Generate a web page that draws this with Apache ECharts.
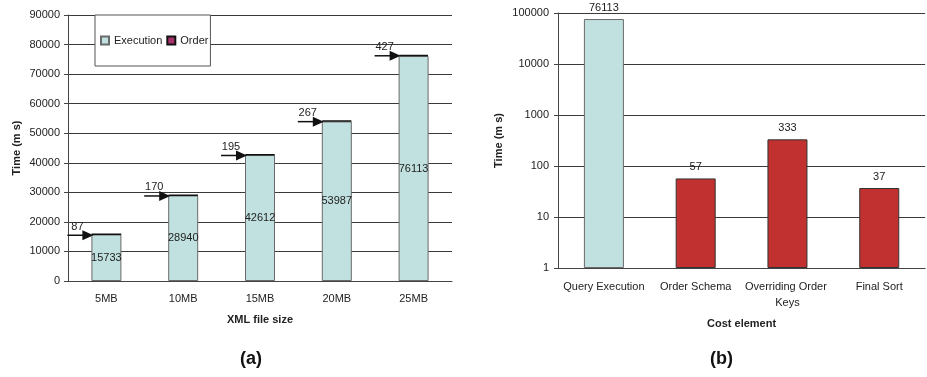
<!DOCTYPE html>
<html>
<head>
<meta charset="utf-8">
<script src="https://cdn.jsdelivr.net/npm/echarts@6/dist/echarts.min.js"></script>
<style>
  html, body { margin: 0; padding: 0; background: #fff; }
  #chart { width: 927px; height: 377px; }
</style>
</head>
<body>
<div id="chart"></div>
<script>
// (a) execution vs. order cost per document size
const fileSizes = ['5MB', '10MB', '15MB', '20MB', '25MB'];
const executionMs = [15733, 28940, 42612, 53987, 76113];
const orderMs = [87, 170, 195, 267, 427];
const timeTicksA = [0, 90000, 10000]; // min, max, interval

// (b) cost breakdown for the 25MB document (log scale)
const costElements = ['Query Execution', 'Order Schema', 'Overriding Order Keys', 'Final Sort'];
const costMs = [76113, 57, 333, 37];
const costKind = ['Execution', 'Order', 'Order', 'Order'];

const FONT = '"Liberation Sans", Arial, sans-serif';
const TEXT = '#222';
const CYAN = '#c0e1df';
const MAGENTA = '#a8326a';
const RED = '#c0312f';
const BAR_W_A = 30;
const BAR_W_B = 40;

const chart = echarts.init(document.getElementById('chart'), null, { renderer: 'canvas' });

const arrowData = fileSizes.map((_, i) => [i, executionMs[i] + orderMs[i], orderMs[i]]);

const plainNumber = v => String(v);
const axisLabelStyle = { color: TEXT, fontSize: 11, fontFamily: FONT };
const nameStyle = { color: TEXT, fontSize: 11, fontWeight: 'bold', fontFamily: FONT };

chart.setOption({
  animation: false,
  textStyle: { fontFamily: FONT },
  grid: [
    { left: 68, top: 15, width: 384, height: 266 },
    { left: 558, top: 13, width: 377, height: 255 }
  ],
  legend: {
    data: ['Execution', 'Order'],
    left: 95, top: 15,
    orient: 'horizontal',
    icon: 'rect',
    padding: [20, 2, 20, 5],
    itemWidth: 8, itemHeight: 8, itemGap: 4,
    backgroundColor: '#fff',
    borderColor: '#555', borderWidth: 1,
    textStyle: { color: TEXT, fontSize: 11, fontFamily: FONT }
  },
  xAxis: [
    {
      type: 'category', gridIndex: 0, data: fileSizes,
      name: 'XML file size', nameLocation: 'middle', nameGap: 33, nameTextStyle: nameStyle,
      axisLine: { lineStyle: { color: '#444' } },
      axisTick: { length: 4, lineStyle: { color: '#444' } },
      axisLabel: Object.assign({ margin: 12 }, axisLabelStyle)
    },
    {
      type: 'category', gridIndex: 1, data: costElements,
      name: 'Cost element', nameLocation: 'middle', nameGap: 50, nameTextStyle: nameStyle,
      axisLine: { lineStyle: { color: '#444' } },
      axisTick: { length: 4, lineStyle: { color: '#444' } },
      axisLabel: Object.assign({ margin: 11, interval: 0, width: 92, overflow: 'break', lineHeight: 16 }, axisLabelStyle)
    }
  ],
  yAxis: [
    {
      type: 'value', gridIndex: 0,
      min: timeTicksA[0], max: timeTicksA[1], interval: timeTicksA[2],
      name: 'Time (m s)', nameLocation: 'middle', nameGap: 46, nameTextStyle: nameStyle,
      axisLine: { show: true, lineStyle: { color: '#444' } },
      axisTick: { show: true, length: 4, lineStyle: { color: '#444' } },
      axisLabel: Object.assign({ margin: 8, formatter: plainNumber }, axisLabelStyle),
      splitLine: { lineStyle: { color: '#3a3a3a', width: 1 } }
    },
    {
      type: 'log', gridIndex: 1, logBase: 10, min: 1, max: 100000,
      name: 'Time (m s)', nameLocation: 'middle', nameGap: 54, nameTextStyle: nameStyle,
      axisLine: { show: true, lineStyle: { color: '#444' } },
      axisTick: { show: true, length: 4, lineStyle: { color: '#444' } },
      minorTick: { show: false },
      axisLabel: Object.assign({ margin: 9, formatter: plainNumber }, axisLabelStyle),
      splitLine: { lineStyle: { color: '#3a3a3a', width: 1 } }
    }
  ],
  series: [
    {
      name: 'Execution', type: 'bar', xAxisIndex: 0, yAxisIndex: 0, stack: 'total',
      data: executionMs, barWidth: BAR_W_A,
      itemStyle: { color: CYAN, borderColor: '#6a6a6a', borderWidth: 1 },
      label: { show: true, position: 'inside', color: TEXT, fontSize: 11, fontFamily: FONT }
    },
    {
      name: 'Order', type: 'bar', xAxisIndex: 0, yAxisIndex: 0, stack: 'total',
      data: orderMs, barWidth: BAR_W_A,
      itemStyle: { color: MAGENTA, borderColor: '#111', borderWidth: 1.5 }
    },
    {
      // arrows pointing at the thin order-cost segment, labelled with its value
      name: 'orderArrows', type: 'custom', xAxisIndex: 0, yAxisIndex: 0,
      data: arrowData, z: 10, silent: true, clip: false,
      renderItem(params, api) {
        const p = api.coord([api.value(0), api.value(1)]);
        const tipX = p[0] - BAR_W_A / 2 + 2;
        const y = p[1] + 1;
        return {
          type: 'group',
          children: [
            { type: 'line', shape: { x1: tipX - 26, y1: y, x2: tipX - 9, y2: y },
              style: { stroke: '#111', lineWidth: 1.5 } },
            { type: 'polygon', shape: { points: [[tipX - 11, y - 5], [tipX, y], [tipX - 11, y + 5]] },
              style: { fill: '#111' } },
            { type: 'text', x: tipX - 16, y: y - 3,
              style: { text: String(api.value(2)), align: 'center', verticalAlign: 'bottom',
                       fill: TEXT, fontSize: 11, fontFamily: FONT } }
          ]
        };
      }
    },
    {
      name: 'Cost', type: 'bar', xAxisIndex: 1, yAxisIndex: 1,
      barWidth: BAR_W_B,
      data: costMs.map((v, i) => ({
        value: v,
        itemStyle: costKind[i] === 'Execution'
          ? { color: CYAN, borderColor: '#6a6a6a', borderWidth: 1 }
          : { color: RED, borderColor: '#333', borderWidth: 1 }
      })),
      label: { show: true, position: 'top', distance: 6, color: TEXT, fontSize: 11, fontFamily: FONT }
    }
  ],
  graphic: [
    { type: 'text', left: 240, top: 350,
      style: { text: '(a)', fontSize: 18, fontWeight: 'bold', fill: '#111', fontFamily: FONT } },
    { type: 'text', left: 710, top: 350,
      style: { text: '(b)', fontSize: 18, fontWeight: 'bold', fill: '#111', fontFamily: FONT } }
  ]
});
</script>
</body>
</html>
